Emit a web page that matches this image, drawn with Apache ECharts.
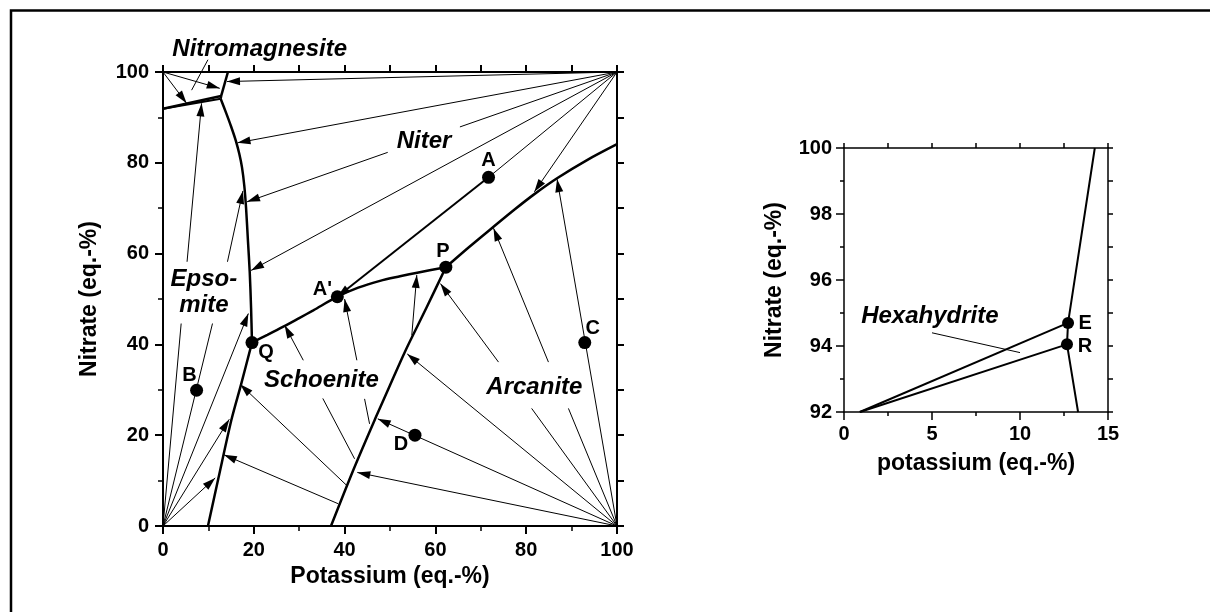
<!DOCTYPE html>
<html><head><meta charset="utf-8">
<script src="https://cdn.jsdelivr.net/npm/echarts@6/dist/echarts.min.js"></script>
<style>html,body{margin:0;padding:0;background:#fff}#c{width:1210px;height:612px}</style>
</head><body><div id="c"></div>
<script>
// ===== DATA (coordinates are [potassium eq.-%, nitrate eq.-%]) =====
// phase boundaries, main diagram
const nitromagnesiteUpper = [[0,91.9],[12.8,94.7]];
const nitromagnesiteLower = [[0,91.9],[12.7,94.1]];
const niterTopBoundary = [[12.8,94.7],[14.3,100]];
const erSegment = [[12.8,94.7],[12.7,94.1]];
const epsomiteNiter = [[12.7,94.1],[13.9,91],[15.0,88],[16.0,85],[16.8,82],[17.4,79],[17.9,75],[18.3,70],[18.7,63],[19.1,56],[19.4,48],[19.6,40.4]];
const schoeniteNiter = [[19.6,40.4],[23,42.1],[26.5,43.9],[30,45.8],[33.1,47.5],[38.4,50.5],[43,52.5],[47.8,54.0],[52.2,55.0],[56,55.8],[62.3,57.0]];
const arcaniteNiter = [[62.3,57],[67.5,61.5],[72.8,65.9],[77.3,69.6],[81.8,73.1],[86.8,76.6],[93.4,80.6],[100,84.1]];
const schoeniteArcanite = [[37,0],[41.9,12.3],[46.9,24],[50,31],[53.3,38.4],[58,48],[62.3,57]];
const epsomiteSchoenite = [[9.9,0],[12.2,10.5],[15.1,23.5],[17.2,31.2],[19.6,40.4]];
// tie line A -> A'
const tieAtoA1 = [[71.7,76.8],[38.4,50.5]];
// tie lines ending in an arrow: [start, arrow tip]
const tieArrows = [
  [[5.3,58.2],[8.5,93.1]],
  [[14.2,58.2],[17.6,73.8]],
  [[0,0],[18.8,46.8]],
  [[0,0],[14.6,23.5]],
  [[0,0],[11.5,10.6]],
  [[0,100],[5.2,93.1]],
  [[0,100],[12.5,96.4]],
  [[100,100],[14.1,97.9]],
  [[100,100],[16.4,84.4]],
  [[49.5,82.3],[18.5,71.4]],
  [[100,100],[19.4,56.3]],
  [[100,100],[81.8,73.6]],
  [[100,0],[86.8,76.4]],
  [[84.9,36.1],[72.8,65.6]],
  [[73.9,36.1],[61.1,53.4]],
  [[100,0],[53.8,37.9]],
  [[100,0],[47.3,23.6]],
  [[100,0],[42.8,11.8]],
  [[38.6,4.9],[13.4,15.7]],
  [[40.4,9.0],[17.0,31.2]],
  [[30.9,36.5],[26.8,44.2]],
  [[42.7,36.5],[40.0,50.0]],
  [[54.8,42.0],[55.9,55.3]]
];
// tie line pieces without arrow
const tiePlain = [
  [[0,0],[4.0,44.6]],
  [[0,0],[10.9,44.6]],
  [[100,100],[65.4,87.9]],
  [[100,100],[71.7,76.8]],
  [[100,0],[89.3,25.9]],
  [[100,0],[81.2,25.9]],
  [[42.2,14.8],[35.2,28.1]],
  [[45.5,22.5],[44.4,28.0]]
];
const nitroLeader = [[6.3,96.0],[9.9,102.7]];
// labelled points
const pointNames = ['A', "A'", 'P', 'Q', 'B', 'C', 'D'];
const pointK = [71.7, 38.4, 62.3, 19.6, 7.4, 92.9, 55.5];
const pointN = [76.8, 50.5, 57.0, 40.4, 29.9, 40.4, 20.0];
// field names
const fieldNames = ['Nitromagnesite', 'Niter', 'Epso-\nmite', 'Schoenite', 'Arcanite'];
const fieldK = [21.3, 57.5, 9.0, 34.9, 81.8];
const fieldN = [105.0, 84.8, 51.4, 32.1, 30.5];
// inset diagram
const hexUpper = [[0.9,92],[12.73,94.7]];
const hexLower = [[0.9,92],[12.67,94.05]];
const hexBoundary = [[14.25,100],[12.73,94.7],[12.67,94.05],[13.3,92]];
const hexLeader = [[5.0,94.4],[10.0,93.8]];
const insetNames = ['E', 'R'];
const insetK = [12.73, 12.67];
const insetN = [94.7, 94.05];
const insetFieldNames = ['Hexahydrite'];
const insetFieldK = [4.88];
const insetFieldN = [94.91];

// ===== STYLE =====
const F = '"Liberation Sans", Arial, Helvetica, sans-serif';
const K = '#000';
const pointLabelOffset = {'A':[0,-17], "A'":[-15,-7], 'P':[-3,-16], 'Q':[14,10], 'B':[-7,-15], 'C':[8,-14], 'D':[-14,9], 'E':[17,1], 'R':[18,2]};
const arrowPath = 'path://M0,0L3,12L-3,12ZM0,-12L0,-12';

function ax(o, lw) {
  const base = {
    type: 'value', splitLine: {show:false}, minorSplitLine: {show:false},
    axisLine: {onZero:false, lineStyle:{color:K, width:lw}},
    axisTick: {show:true, length:8, lineStyle:{color:K, width:lw}},
    axisLabel: {show:false, color:K, fontFamily:F, fontWeight:'bold', fontSize:20},
    nameTextStyle: {color:K, fontFamily:F, fontWeight:'bold', fontSize:23}
  };
  const r = Object.assign({}, base, o);
  if (o.axisTick) r.axisTick = Object.assign({}, base.axisTick, o.axisTick);
  if (o.axisLabel) r.axisLabel = Object.assign({}, base.axisLabel, o.axisLabel);
  return r;
}
const minor = (len, lw) => ({show:true, splitNumber:2, length:len, lineStyle:{color:K, width:lw}});

function boundary(data, xi, smooth, w) {
  return {type:'line', xAxisIndex:xi, yAxisIndex:xi, data:data, showSymbol:false, symbol:'none',
    smooth:smooth, lineStyle:{color:K, width:w}, z:5, silent:true, animation:false};
}
const ptLabel = {show:true, position:'inside', formatter:'{b}', color:K, fontFamily:F, fontWeight:'bold', fontSize:20};
const fieldLabel = {show:true, position:'inside', formatter:'{b}', color:K, fontFamily:F, fontWeight:'bold', fontStyle:'italic', fontSize:24, lineHeight:26};

const option = {
  animation: false,
  backgroundColor: '#fff',
  grid: [
    {left:163, top:72, width:454, height:454},
    {left:844, top:148, width:264, height:264}
  ],
  xAxis: [
    ax({gridIndex:0, min:0, max:100, interval:20, position:'bottom', name:'Potassium (eq.-%)', nameLocation:'middle', nameGap:39,
        axisTick:{length:8}, minorTick:minor(5,1.5), axisLabel:{show:true, margin:14}}, 2),
    ax({gridIndex:0, min:0, max:100, interval:10, position:'top', axisTick:{length:7}}, 2),
    ax({gridIndex:1, min:0, max:15, interval:5, position:'bottom', name:'potassium (eq.-%)', nameLocation:'middle', nameGap:40,
        axisTick:{length:8}, minorTick:minor(4,1.5), axisLabel:{show:true, margin:12}}, 1.5),
    ax({gridIndex:1, min:0, max:15, interval:2.5, position:'top', axisTick:{length:5}}, 1.5)
  ],
  yAxis: [
    ax({gridIndex:0, min:0, max:100, interval:20, position:'left', name:'Nitrate (eq.-%)', nameLocation:'middle', nameGap:62,
        axisTick:{length:8}, minorTick:minor(5,1.5), axisLabel:{show:true, margin:14}}, 2),
    ax({gridIndex:0, min:0, max:100, interval:10, position:'right', axisTick:{length:7}}, 2),
    ax({gridIndex:1, min:92, max:100, interval:2, position:'left', name:'Nitrate (eq.-%)', nameLocation:'middle', nameGap:58,
        axisTick:{length:8}, minorTick:minor(4,1.5), axisLabel:{show:true, margin:12}}, 1.5),
    ax({gridIndex:1, min:92, max:100, interval:1, position:'right', axisTick:{length:5}}, 1.5)
  ],
  graphic: [{type:'rect', shape:{x:11, y:10.5, width:1300, height:700}, style:{fill:null, stroke:K, lineWidth:2.5}, z:100, silent:true}],
  series: [
    {type:'lines', coordinateSystem:'cartesian2d', xAxisIndex:0, yAxisIndex:0, polyline:false, silent:true, animation:false,
     symbol:['none','none'], lineStyle:{color:K, width:1, opacity:1, curveness:0}, z:3,
     data: tiePlain.map(c => ({coords:c}))},
    {type:'lines', coordinateSystem:'cartesian2d', xAxisIndex:0, yAxisIndex:0, polyline:false, silent:true, animation:false,
     symbol:['none', arrowPath], symbolSize:[0,[8,26]], lineStyle:{color:K, width:1, opacity:1, curveness:0}, z:3,
     data: tieArrows.map(c => ({coords:c}))},
    {type:'lines', coordinateSystem:'cartesian2d', xAxisIndex:0, yAxisIndex:0, polyline:false, silent:true, animation:false,
     symbol:['none', arrowPath], symbolSize:[0,[8,26]], lineStyle:{color:K, width:2, opacity:1, curveness:0}, z:4,
     data: [{coords: tieAtoA1}]},
    {type:'line', xAxisIndex:0, yAxisIndex:0, data:nitroLeader, showSymbol:false, symbol:'none', clip:false,
     lineStyle:{color:K, width:1}, z:3, silent:true},
    boundary(nitromagnesiteUpper, 0, false, 2.5),
    boundary(nitromagnesiteLower, 0, false, 2),
    boundary(niterTopBoundary, 0, false, 2.5),
    boundary(erSegment, 0, false, 2.5),
    boundary(epsomiteNiter, 0, 0.3, 2.5),
    boundary(schoeniteNiter, 0, 0.3, 2.5),
    boundary(arcaniteNiter, 0, 0.3, 2.5),
    boundary(schoeniteArcanite, 0, 0.3, 2.5),
    boundary(epsomiteSchoenite, 0, 0.3, 2.5),
    {type:'scatter', xAxisIndex:0, yAxisIndex:0, symbolSize:13, itemStyle:{color:K, opacity:1}, z:6, silent:true,
     data: pointNames.map((n,i) => ({name:n, value:[pointK[i], pointN[i]], label:{offset:pointLabelOffset[n]}})),
     label: ptLabel},
    {type:'scatter', xAxisIndex:0, yAxisIndex:0, symbolSize:0, clip:false, z:6, silent:true, itemStyle:{color:K, opacity:1},
     data: fieldNames.map((n,i) => ({name:n, value:[fieldK[i], fieldN[i]]})),
     label: fieldLabel},
    // inset (axes index 2)
    boundary(hexUpper, 2, false, 2),
    boundary(hexLower, 2, false, 2),
    boundary(hexBoundary, 2, false, 2),
    {type:'line', xAxisIndex:2, yAxisIndex:2, data:hexLeader, showSymbol:false, symbol:'none', lineStyle:{color:K, width:1}, z:3, silent:true},
    {type:'scatter', xAxisIndex:2, yAxisIndex:2, symbolSize:12, itemStyle:{color:K, opacity:1}, z:6, silent:true,
     data: insetNames.map((n,i) => ({name:n, value:[insetK[i], insetN[i]], label:{offset:pointLabelOffset[n]}})),
     label: ptLabel},
    {type:'scatter', xAxisIndex:2, yAxisIndex:2, symbolSize:0, clip:false, z:6, silent:true, itemStyle:{color:K, opacity:1},
     data: insetFieldNames.map((n,i) => ({name:n, value:[insetFieldK[i], insetFieldN[i]]})),
     label: fieldLabel}
  ]
};
const chart = echarts.init(document.getElementById('c'), null, {renderer:'canvas'});
chart.setOption(option);
</script></body></html>
